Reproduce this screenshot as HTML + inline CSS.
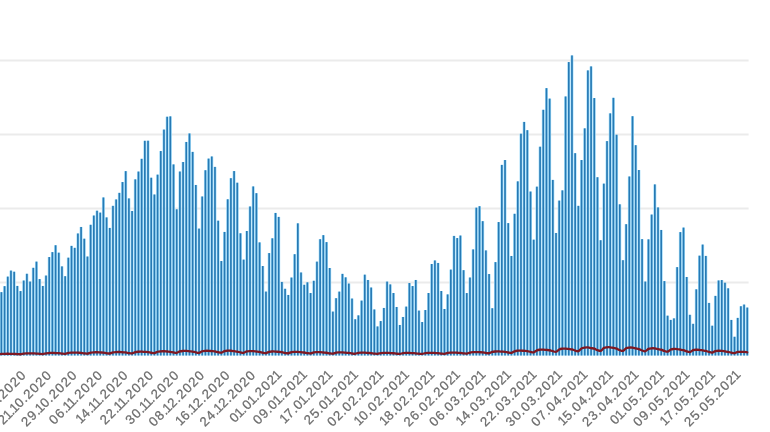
<!DOCTYPE html>
<html><head><meta charset="utf-8"><title>chart</title>
<style>
html,body{margin:0;padding:0;background:#fff;}
body{width:770px;height:432px;overflow:hidden;position:relative;font-family:"Liberation Sans",sans-serif;}
svg{position:absolute;left:0;top:0;display:block;}
.g{stroke:#ebebeb;stroke-width:2.2;fill:none}
.lt{fill:#a4dffc}.dk{fill:#2679b4}
.d{fill:none;stroke:#7e1822;stroke-width:2.3;stroke-linejoin:round;stroke-linecap:round}
.l text{font-family:"Liberation Sans",sans-serif;font-size:13.2px;fill:#6c6c6c;stroke:#6c6c6c;stroke-width:0.25px}
</style></head><body>
<svg width="770" height="432" viewBox="0 0 770 432">
<line class="g" x1="0" y1="60.5" x2="748.6" y2="60.5"/>
<line class="g" x1="0" y1="134.5" x2="748.6" y2="134.5"/>
<line class="g" x1="0" y1="208.5" x2="748.6" y2="208.5"/>
<line class="g" x1="0" y1="282.5" x2="748.6" y2="282.5"/>
<defs><clipPath id="c"><rect x="0" y="0" width="770" height="355.6"/></clipPath></defs>
<g class="b" clip-path="url(#c)">
<rect class="lt" x="-0.08" y="292.15" width="2.95" height="66.25"/>
<rect class="lt" x="3.11" y="286.16" width="2.95" height="72.24"/>
<rect class="lt" x="6.30" y="276.62" width="2.95" height="81.78"/>
<rect class="lt" x="9.49" y="270.60" width="2.95" height="87.80"/>
<rect class="lt" x="12.68" y="271.73" width="2.95" height="86.67"/>
<rect class="lt" x="15.86" y="285.93" width="2.95" height="72.47"/>
<rect class="lt" x="19.05" y="291.08" width="2.95" height="67.32"/>
<rect class="lt" x="22.24" y="280.53" width="2.95" height="77.87"/>
<rect class="lt" x="25.42" y="273.77" width="2.95" height="84.63"/>
<rect class="lt" x="28.61" y="281.58" width="2.95" height="76.82"/>
<rect class="lt" x="31.80" y="267.82" width="2.95" height="90.58"/>
<rect class="lt" x="34.99" y="261.63" width="2.95" height="96.77"/>
<rect class="lt" x="38.17" y="279.08" width="2.95" height="79.32"/>
<rect class="lt" x="41.36" y="285.96" width="2.95" height="72.44"/>
<rect class="lt" x="44.55" y="275.56" width="2.95" height="82.84"/>
<rect class="lt" x="47.74" y="257.06" width="2.95" height="101.34"/>
<rect class="lt" x="50.92" y="252.12" width="2.95" height="106.28"/>
<rect class="lt" x="54.11" y="245.25" width="2.95" height="113.15"/>
<rect class="lt" x="57.30" y="252.69" width="2.95" height="105.71"/>
<rect class="lt" x="60.49" y="266.40" width="2.95" height="92.00"/>
<rect class="lt" x="63.68" y="276.20" width="2.95" height="82.20"/>
<rect class="lt" x="66.86" y="257.68" width="2.95" height="100.72"/>
<rect class="lt" x="70.05" y="245.88" width="2.95" height="112.52"/>
<rect class="lt" x="73.24" y="247.84" width="2.95" height="110.56"/>
<rect class="lt" x="76.43" y="233.48" width="2.95" height="124.92"/>
<rect class="lt" x="79.61" y="226.97" width="2.95" height="131.43"/>
<rect class="lt" x="82.80" y="238.71" width="2.95" height="119.69"/>
<rect class="lt" x="85.99" y="256.54" width="2.95" height="101.86"/>
<rect class="lt" x="89.18" y="224.79" width="2.95" height="133.61"/>
<rect class="lt" x="92.36" y="215.54" width="2.95" height="142.86"/>
<rect class="lt" x="95.55" y="210.72" width="2.95" height="147.68"/>
<rect class="lt" x="98.74" y="212.63" width="2.95" height="145.77"/>
<rect class="lt" x="101.93" y="197.46" width="2.95" height="160.94"/>
<rect class="lt" x="105.11" y="217.42" width="2.95" height="140.98"/>
<rect class="lt" x="108.30" y="227.93" width="2.95" height="130.47"/>
<rect class="lt" x="111.49" y="205.85" width="2.95" height="152.55"/>
<rect class="lt" x="114.68" y="199.46" width="2.95" height="158.94"/>
<rect class="lt" x="117.86" y="192.86" width="2.95" height="165.54"/>
<rect class="lt" x="121.05" y="182.05" width="2.95" height="176.35"/>
<rect class="lt" x="124.24" y="171.14" width="2.95" height="187.26"/>
<rect class="lt" x="127.43" y="198.42" width="2.95" height="159.98"/>
<rect class="lt" x="130.61" y="210.99" width="2.95" height="147.41"/>
<rect class="lt" x="133.80" y="179.37" width="2.95" height="179.03"/>
<rect class="lt" x="136.99" y="171.56" width="2.95" height="186.84"/>
<rect class="lt" x="140.18" y="158.82" width="2.95" height="199.58"/>
<rect class="lt" x="143.36" y="140.79" width="2.95" height="217.61"/>
<rect class="lt" x="146.55" y="140.72" width="2.95" height="217.68"/>
<rect class="lt" x="149.74" y="177.73" width="2.95" height="180.67"/>
<rect class="lt" x="152.93" y="194.51" width="2.95" height="163.89"/>
<rect class="lt" x="156.11" y="174.65" width="2.95" height="183.75"/>
<rect class="lt" x="159.30" y="151.05" width="2.95" height="207.35"/>
<rect class="lt" x="162.49" y="129.60" width="2.95" height="228.80"/>
<rect class="lt" x="165.68" y="116.74" width="2.95" height="241.66"/>
<rect class="lt" x="168.86" y="116.37" width="2.95" height="242.03"/>
<rect class="lt" x="172.05" y="164.43" width="2.95" height="193.97"/>
<rect class="lt" x="175.24" y="209.30" width="2.95" height="149.10"/>
<rect class="lt" x="178.43" y="171.53" width="2.95" height="186.87"/>
<rect class="lt" x="181.61" y="162.01" width="2.95" height="196.39"/>
<rect class="lt" x="184.80" y="141.96" width="2.95" height="216.44"/>
<rect class="lt" x="187.99" y="133.46" width="2.95" height="224.94"/>
<rect class="lt" x="191.18" y="151.89" width="2.95" height="206.51"/>
<rect class="lt" x="194.36" y="184.97" width="2.95" height="173.43"/>
<rect class="lt" x="197.55" y="228.61" width="2.95" height="129.79"/>
<rect class="lt" x="200.74" y="196.50" width="2.95" height="161.90"/>
<rect class="lt" x="203.93" y="170.24" width="2.95" height="188.16"/>
<rect class="lt" x="207.11" y="158.61" width="2.95" height="199.79"/>
<rect class="lt" x="210.30" y="156.49" width="2.95" height="201.91"/>
<rect class="lt" x="213.49" y="166.90" width="2.95" height="191.50"/>
<rect class="lt" x="216.68" y="220.70" width="2.95" height="137.70"/>
<rect class="lt" x="219.86" y="261.03" width="2.95" height="97.37"/>
<rect class="lt" x="223.05" y="231.94" width="2.95" height="126.46"/>
<rect class="lt" x="226.24" y="199.29" width="2.95" height="159.11"/>
<rect class="lt" x="229.43" y="178.20" width="2.95" height="180.20"/>
<rect class="lt" x="232.61" y="171.06" width="2.95" height="187.34"/>
<rect class="lt" x="235.80" y="182.72" width="2.95" height="175.68"/>
<rect class="lt" x="238.99" y="233.29" width="2.95" height="125.11"/>
<rect class="lt" x="242.18" y="259.63" width="2.95" height="98.77"/>
<rect class="lt" x="245.36" y="231.00" width="2.95" height="127.40"/>
<rect class="lt" x="248.55" y="206.49" width="2.95" height="151.91"/>
<rect class="lt" x="251.74" y="186.45" width="2.95" height="171.95"/>
<rect class="lt" x="254.92" y="193.18" width="2.95" height="165.22"/>
<rect class="lt" x="258.11" y="242.41" width="2.95" height="115.99"/>
<rect class="lt" x="261.30" y="266.03" width="2.95" height="92.37"/>
<rect class="lt" x="264.49" y="291.60" width="2.95" height="66.80"/>
<rect class="lt" x="267.67" y="253.08" width="2.95" height="105.32"/>
<rect class="lt" x="270.86" y="238.31" width="2.95" height="120.09"/>
<rect class="lt" x="274.05" y="212.95" width="2.95" height="145.45"/>
<rect class="lt" x="277.24" y="216.91" width="2.95" height="141.49"/>
<rect class="lt" x="280.42" y="281.94" width="2.95" height="76.46"/>
<rect class="lt" x="283.61" y="288.78" width="2.95" height="69.62"/>
<rect class="lt" x="286.80" y="294.96" width="2.95" height="63.44"/>
<rect class="lt" x="289.99" y="277.56" width="2.95" height="80.84"/>
<rect class="lt" x="293.17" y="254.22" width="2.95" height="104.18"/>
<rect class="lt" x="296.36" y="223.34" width="2.95" height="135.06"/>
<rect class="lt" x="299.55" y="272.50" width="2.95" height="85.90"/>
<rect class="lt" x="302.74" y="284.78" width="2.95" height="73.62"/>
<rect class="lt" x="305.92" y="282.34" width="2.95" height="76.06"/>
<rect class="lt" x="309.11" y="293.04" width="2.95" height="65.36"/>
<rect class="lt" x="312.30" y="280.78" width="2.95" height="77.62"/>
<rect class="lt" x="315.49" y="261.65" width="2.95" height="96.75"/>
<rect class="lt" x="318.67" y="239.21" width="2.95" height="119.19"/>
<rect class="lt" x="321.86" y="235.15" width="2.95" height="123.25"/>
<rect class="lt" x="325.05" y="242.11" width="2.95" height="116.29"/>
<rect class="lt" x="328.24" y="268.00" width="2.95" height="90.40"/>
<rect class="lt" x="331.42" y="311.60" width="2.95" height="46.80"/>
<rect class="lt" x="334.61" y="298.20" width="2.95" height="60.20"/>
<rect class="lt" x="337.80" y="291.63" width="2.95" height="66.77"/>
<rect class="lt" x="340.99" y="273.87" width="2.95" height="84.53"/>
<rect class="lt" x="344.17" y="277.35" width="2.95" height="81.05"/>
<rect class="lt" x="347.36" y="283.57" width="2.95" height="74.83"/>
<rect class="lt" x="350.55" y="298.56" width="2.95" height="59.84"/>
<rect class="lt" x="353.74" y="319.26" width="2.95" height="39.14"/>
<rect class="lt" x="356.92" y="315.37" width="2.95" height="43.03"/>
<rect class="lt" x="360.11" y="300.62" width="2.95" height="57.78"/>
<rect class="lt" x="363.30" y="274.67" width="2.95" height="83.73"/>
<rect class="lt" x="366.49" y="279.98" width="2.95" height="78.42"/>
<rect class="lt" x="369.67" y="287.53" width="2.95" height="70.87"/>
<rect class="lt" x="372.86" y="309.48" width="2.95" height="48.92"/>
<rect class="lt" x="376.05" y="326.46" width="2.95" height="31.94"/>
<rect class="lt" x="379.24" y="321.07" width="2.95" height="37.33"/>
<rect class="lt" x="382.42" y="307.96" width="2.95" height="50.44"/>
<rect class="lt" x="385.61" y="281.61" width="2.95" height="76.79"/>
<rect class="lt" x="388.80" y="284.42" width="2.95" height="73.98"/>
<rect class="lt" x="391.99" y="293.01" width="2.95" height="65.39"/>
<rect class="lt" x="395.17" y="306.99" width="2.95" height="51.41"/>
<rect class="lt" x="398.36" y="324.98" width="2.95" height="33.42"/>
<rect class="lt" x="401.55" y="316.98" width="2.95" height="41.42"/>
<rect class="lt" x="404.74" y="306.62" width="2.95" height="51.78"/>
<rect class="lt" x="407.92" y="283.02" width="2.95" height="75.38"/>
<rect class="lt" x="411.11" y="286.05" width="2.95" height="72.35"/>
<rect class="lt" x="414.30" y="279.98" width="2.95" height="78.42"/>
<rect class="lt" x="417.49" y="310.62" width="2.95" height="47.78"/>
<rect class="lt" x="420.67" y="322.02" width="2.95" height="36.38"/>
<rect class="lt" x="423.86" y="310.03" width="2.95" height="48.37"/>
<rect class="lt" x="427.05" y="293.01" width="2.95" height="65.39"/>
<rect class="lt" x="430.24" y="264.00" width="2.95" height="94.40"/>
<rect class="lt" x="433.42" y="260.45" width="2.95" height="97.95"/>
<rect class="lt" x="436.61" y="262.96" width="2.95" height="95.44"/>
<rect class="lt" x="439.80" y="291.01" width="2.95" height="67.39"/>
<rect class="lt" x="442.99" y="308.99" width="2.95" height="49.41"/>
<rect class="lt" x="446.17" y="294.41" width="2.95" height="63.99"/>
<rect class="lt" x="449.36" y="269.62" width="2.95" height="88.78"/>
<rect class="lt" x="452.55" y="235.92" width="2.95" height="122.48"/>
<rect class="lt" x="455.74" y="238.06" width="2.95" height="120.34"/>
<rect class="lt" x="458.92" y="235.55" width="2.95" height="122.85"/>
<rect class="lt" x="462.11" y="270.17" width="2.95" height="88.23"/>
<rect class="lt" x="465.30" y="293.08" width="2.95" height="65.32"/>
<rect class="lt" x="468.49" y="277.53" width="2.95" height="80.87"/>
<rect class="lt" x="471.67" y="249.42" width="2.95" height="108.98"/>
<rect class="lt" x="474.86" y="207.66" width="2.95" height="150.74"/>
<rect class="lt" x="478.05" y="206.21" width="2.95" height="152.19"/>
<rect class="lt" x="481.24" y="221.17" width="2.95" height="137.23"/>
<rect class="lt" x="484.42" y="250.43" width="2.95" height="107.97"/>
<rect class="lt" x="487.61" y="274.03" width="2.95" height="84.37"/>
<rect class="lt" x="490.80" y="308.24" width="2.95" height="50.16"/>
<rect class="lt" x="493.99" y="262.12" width="2.95" height="96.28"/>
<rect class="lt" x="497.17" y="222.06" width="2.95" height="136.34"/>
<rect class="lt" x="500.36" y="164.90" width="2.95" height="193.50"/>
<rect class="lt" x="503.55" y="160.02" width="2.95" height="198.38"/>
<rect class="lt" x="506.74" y="223.12" width="2.95" height="135.28"/>
<rect class="lt" x="509.92" y="255.98" width="2.95" height="102.42"/>
<rect class="lt" x="513.11" y="213.80" width="2.95" height="144.60"/>
<rect class="lt" x="516.30" y="181.37" width="2.95" height="177.03"/>
<rect class="lt" x="519.49" y="133.72" width="2.95" height="224.68"/>
<rect class="lt" x="522.67" y="121.92" width="2.95" height="236.48"/>
<rect class="lt" x="525.86" y="130.18" width="2.95" height="228.22"/>
<rect class="lt" x="529.05" y="191.55" width="2.95" height="166.85"/>
<rect class="lt" x="532.24" y="239.68" width="2.95" height="118.72"/>
<rect class="lt" x="535.42" y="186.66" width="2.95" height="171.74"/>
<rect class="lt" x="538.61" y="146.72" width="2.95" height="211.68"/>
<rect class="lt" x="541.80" y="109.80" width="2.95" height="248.60"/>
<rect class="lt" x="544.99" y="88.15" width="2.95" height="270.25"/>
<rect class="lt" x="548.17" y="98.62" width="2.95" height="259.78"/>
<rect class="lt" x="551.36" y="179.91" width="2.95" height="178.49"/>
<rect class="lt" x="554.55" y="232.98" width="2.95" height="125.42"/>
<rect class="lt" x="557.74" y="200.61" width="2.95" height="157.79"/>
<rect class="lt" x="560.92" y="190.36" width="2.95" height="168.04"/>
<rect class="lt" x="564.11" y="96.48" width="2.95" height="261.92"/>
<rect class="lt" x="567.30" y="62.08" width="2.95" height="296.32"/>
<rect class="lt" x="570.49" y="55.45" width="2.95" height="302.95"/>
<rect class="lt" x="573.67" y="153.18" width="2.95" height="205.22"/>
<rect class="lt" x="576.86" y="205.85" width="2.95" height="152.55"/>
<rect class="lt" x="580.05" y="160.02" width="2.95" height="198.38"/>
<rect class="lt" x="583.24" y="128.36" width="2.95" height="230.04"/>
<rect class="lt" x="586.42" y="70.42" width="2.95" height="287.98"/>
<rect class="lt" x="589.61" y="66.42" width="2.95" height="291.98"/>
<rect class="lt" x="592.80" y="98.05" width="2.95" height="260.35"/>
<rect class="lt" x="595.99" y="177.24" width="2.95" height="181.16"/>
<rect class="lt" x="599.17" y="240.23" width="2.95" height="118.17"/>
<rect class="lt" x="602.36" y="183.64" width="2.95" height="174.76"/>
<rect class="lt" x="605.55" y="141.12" width="2.95" height="217.28"/>
<rect class="lt" x="608.74" y="113.38" width="2.95" height="245.02"/>
<rect class="lt" x="611.92" y="97.81" width="2.95" height="260.59"/>
<rect class="lt" x="615.11" y="134.74" width="2.95" height="223.66"/>
<rect class="lt" x="618.30" y="204.33" width="2.95" height="154.07"/>
<rect class="lt" x="621.49" y="260.21" width="2.95" height="98.19"/>
<rect class="lt" x="624.67" y="224.19" width="2.95" height="134.21"/>
<rect class="lt" x="627.86" y="176.50" width="2.95" height="181.90"/>
<rect class="lt" x="631.05" y="116.22" width="2.95" height="242.18"/>
<rect class="lt" x="634.24" y="145.20" width="2.95" height="213.20"/>
<rect class="lt" x="637.42" y="170.02" width="2.95" height="188.38"/>
<rect class="lt" x="640.61" y="239.14" width="2.95" height="119.26"/>
<rect class="lt" x="643.80" y="281.58" width="2.95" height="76.82"/>
<rect class="lt" x="646.99" y="239.36" width="2.95" height="119.04"/>
<rect class="lt" x="650.17" y="214.57" width="2.95" height="143.83"/>
<rect class="lt" x="653.36" y="184.42" width="2.95" height="173.98"/>
<rect class="lt" x="656.55" y="207.43" width="2.95" height="150.97"/>
<rect class="lt" x="659.74" y="229.97" width="2.95" height="128.43"/>
<rect class="lt" x="662.92" y="281.11" width="2.95" height="77.29"/>
<rect class="lt" x="666.11" y="315.68" width="2.95" height="42.72"/>
<rect class="lt" x="669.30" y="319.91" width="2.95" height="38.49"/>
<rect class="lt" x="672.49" y="318.38" width="2.95" height="40.02"/>
<rect class="lt" x="675.67" y="267.14" width="2.95" height="91.26"/>
<rect class="lt" x="678.86" y="232.12" width="2.95" height="126.28"/>
<rect class="lt" x="682.05" y="227.59" width="2.95" height="130.81"/>
<rect class="lt" x="685.24" y="276.99" width="2.95" height="81.41"/>
<rect class="lt" x="688.42" y="314.81" width="2.95" height="43.59"/>
<rect class="lt" x="691.61" y="323.82" width="2.95" height="34.58"/>
<rect class="lt" x="694.80" y="289.34" width="2.95" height="69.06"/>
<rect class="lt" x="697.99" y="255.67" width="2.95" height="102.73"/>
<rect class="lt" x="701.17" y="244.58" width="2.95" height="113.82"/>
<rect class="lt" x="704.36" y="255.92" width="2.95" height="102.48"/>
<rect class="lt" x="707.55" y="302.92" width="2.95" height="55.48"/>
<rect class="lt" x="710.74" y="325.72" width="2.95" height="32.68"/>
<rect class="lt" x="713.92" y="295.89" width="2.95" height="62.51"/>
<rect class="lt" x="717.11" y="280.46" width="2.95" height="77.94"/>
<rect class="lt" x="720.30" y="280.06" width="2.95" height="78.34"/>
<rect class="lt" x="723.49" y="282.74" width="2.95" height="75.66"/>
<rect class="lt" x="726.67" y="288.33" width="2.95" height="70.07"/>
<rect class="lt" x="729.86" y="319.94" width="2.95" height="38.46"/>
<rect class="lt" x="733.05" y="336.76" width="2.95" height="21.64"/>
<rect class="lt" x="736.24" y="317.90" width="2.95" height="40.50"/>
<rect class="lt" x="739.42" y="306.25" width="2.95" height="52.15"/>
<rect class="lt" x="742.61" y="304.57" width="2.95" height="53.83"/>
<rect class="lt" x="745.80" y="307.57" width="2.95" height="50.83"/>
<rect class="dk" x="0.57" y="292.15" width="1.65" height="66.25"/>
<rect class="dk" x="3.76" y="286.16" width="1.65" height="72.24"/>
<rect class="dk" x="6.95" y="276.62" width="1.65" height="81.78"/>
<rect class="dk" x="10.14" y="270.60" width="1.65" height="87.80"/>
<rect class="dk" x="13.33" y="271.73" width="1.65" height="86.67"/>
<rect class="dk" x="16.51" y="285.93" width="1.65" height="72.47"/>
<rect class="dk" x="19.70" y="291.08" width="1.65" height="67.32"/>
<rect class="dk" x="22.89" y="280.53" width="1.65" height="77.87"/>
<rect class="dk" x="26.07" y="273.77" width="1.65" height="84.63"/>
<rect class="dk" x="29.26" y="281.58" width="1.65" height="76.82"/>
<rect class="dk" x="32.45" y="267.82" width="1.65" height="90.58"/>
<rect class="dk" x="35.64" y="261.63" width="1.65" height="96.77"/>
<rect class="dk" x="38.82" y="279.08" width="1.65" height="79.32"/>
<rect class="dk" x="42.01" y="285.96" width="1.65" height="72.44"/>
<rect class="dk" x="45.20" y="275.56" width="1.65" height="82.84"/>
<rect class="dk" x="48.39" y="257.06" width="1.65" height="101.34"/>
<rect class="dk" x="51.57" y="252.12" width="1.65" height="106.28"/>
<rect class="dk" x="54.76" y="245.25" width="1.65" height="113.15"/>
<rect class="dk" x="57.95" y="252.69" width="1.65" height="105.71"/>
<rect class="dk" x="61.14" y="266.40" width="1.65" height="92.00"/>
<rect class="dk" x="64.33" y="276.20" width="1.65" height="82.20"/>
<rect class="dk" x="67.51" y="257.68" width="1.65" height="100.72"/>
<rect class="dk" x="70.70" y="245.88" width="1.65" height="112.52"/>
<rect class="dk" x="73.89" y="247.84" width="1.65" height="110.56"/>
<rect class="dk" x="77.08" y="233.48" width="1.65" height="124.92"/>
<rect class="dk" x="80.26" y="226.97" width="1.65" height="131.43"/>
<rect class="dk" x="83.45" y="238.71" width="1.65" height="119.69"/>
<rect class="dk" x="86.64" y="256.54" width="1.65" height="101.86"/>
<rect class="dk" x="89.83" y="224.79" width="1.65" height="133.61"/>
<rect class="dk" x="93.01" y="215.54" width="1.65" height="142.86"/>
<rect class="dk" x="96.20" y="210.72" width="1.65" height="147.68"/>
<rect class="dk" x="99.39" y="212.63" width="1.65" height="145.77"/>
<rect class="dk" x="102.58" y="197.46" width="1.65" height="160.94"/>
<rect class="dk" x="105.76" y="217.42" width="1.65" height="140.98"/>
<rect class="dk" x="108.95" y="227.93" width="1.65" height="130.47"/>
<rect class="dk" x="112.14" y="205.85" width="1.65" height="152.55"/>
<rect class="dk" x="115.33" y="199.46" width="1.65" height="158.94"/>
<rect class="dk" x="118.51" y="192.86" width="1.65" height="165.54"/>
<rect class="dk" x="121.70" y="182.05" width="1.65" height="176.35"/>
<rect class="dk" x="124.89" y="171.14" width="1.65" height="187.26"/>
<rect class="dk" x="128.08" y="198.42" width="1.65" height="159.98"/>
<rect class="dk" x="131.26" y="210.99" width="1.65" height="147.41"/>
<rect class="dk" x="134.45" y="179.37" width="1.65" height="179.03"/>
<rect class="dk" x="137.64" y="171.56" width="1.65" height="186.84"/>
<rect class="dk" x="140.83" y="158.82" width="1.65" height="199.58"/>
<rect class="dk" x="144.01" y="140.79" width="1.65" height="217.61"/>
<rect class="dk" x="147.20" y="140.72" width="1.65" height="217.68"/>
<rect class="dk" x="150.39" y="177.73" width="1.65" height="180.67"/>
<rect class="dk" x="153.58" y="194.51" width="1.65" height="163.89"/>
<rect class="dk" x="156.76" y="174.65" width="1.65" height="183.75"/>
<rect class="dk" x="159.95" y="151.05" width="1.65" height="207.35"/>
<rect class="dk" x="163.14" y="129.60" width="1.65" height="228.80"/>
<rect class="dk" x="166.33" y="116.74" width="1.65" height="241.66"/>
<rect class="dk" x="169.51" y="116.37" width="1.65" height="242.03"/>
<rect class="dk" x="172.70" y="164.43" width="1.65" height="193.97"/>
<rect class="dk" x="175.89" y="209.30" width="1.65" height="149.10"/>
<rect class="dk" x="179.08" y="171.53" width="1.65" height="186.87"/>
<rect class="dk" x="182.26" y="162.01" width="1.65" height="196.39"/>
<rect class="dk" x="185.45" y="141.96" width="1.65" height="216.44"/>
<rect class="dk" x="188.64" y="133.46" width="1.65" height="224.94"/>
<rect class="dk" x="191.83" y="151.89" width="1.65" height="206.51"/>
<rect class="dk" x="195.01" y="184.97" width="1.65" height="173.43"/>
<rect class="dk" x="198.20" y="228.61" width="1.65" height="129.79"/>
<rect class="dk" x="201.39" y="196.50" width="1.65" height="161.90"/>
<rect class="dk" x="204.58" y="170.24" width="1.65" height="188.16"/>
<rect class="dk" x="207.76" y="158.61" width="1.65" height="199.79"/>
<rect class="dk" x="210.95" y="156.49" width="1.65" height="201.91"/>
<rect class="dk" x="214.14" y="166.90" width="1.65" height="191.50"/>
<rect class="dk" x="217.33" y="220.70" width="1.65" height="137.70"/>
<rect class="dk" x="220.51" y="261.03" width="1.65" height="97.37"/>
<rect class="dk" x="223.70" y="231.94" width="1.65" height="126.46"/>
<rect class="dk" x="226.89" y="199.29" width="1.65" height="159.11"/>
<rect class="dk" x="230.08" y="178.20" width="1.65" height="180.20"/>
<rect class="dk" x="233.26" y="171.06" width="1.65" height="187.34"/>
<rect class="dk" x="236.45" y="182.72" width="1.65" height="175.68"/>
<rect class="dk" x="239.64" y="233.29" width="1.65" height="125.11"/>
<rect class="dk" x="242.83" y="259.63" width="1.65" height="98.77"/>
<rect class="dk" x="246.01" y="231.00" width="1.65" height="127.40"/>
<rect class="dk" x="249.20" y="206.49" width="1.65" height="151.91"/>
<rect class="dk" x="252.39" y="186.45" width="1.65" height="171.95"/>
<rect class="dk" x="255.57" y="193.18" width="1.65" height="165.22"/>
<rect class="dk" x="258.76" y="242.41" width="1.65" height="115.99"/>
<rect class="dk" x="261.95" y="266.03" width="1.65" height="92.37"/>
<rect class="dk" x="265.14" y="291.60" width="1.65" height="66.80"/>
<rect class="dk" x="268.32" y="253.08" width="1.65" height="105.32"/>
<rect class="dk" x="271.51" y="238.31" width="1.65" height="120.09"/>
<rect class="dk" x="274.70" y="212.95" width="1.65" height="145.45"/>
<rect class="dk" x="277.89" y="216.91" width="1.65" height="141.49"/>
<rect class="dk" x="281.07" y="281.94" width="1.65" height="76.46"/>
<rect class="dk" x="284.26" y="288.78" width="1.65" height="69.62"/>
<rect class="dk" x="287.45" y="294.96" width="1.65" height="63.44"/>
<rect class="dk" x="290.64" y="277.56" width="1.65" height="80.84"/>
<rect class="dk" x="293.82" y="254.22" width="1.65" height="104.18"/>
<rect class="dk" x="297.01" y="223.34" width="1.65" height="135.06"/>
<rect class="dk" x="300.20" y="272.50" width="1.65" height="85.90"/>
<rect class="dk" x="303.39" y="284.78" width="1.65" height="73.62"/>
<rect class="dk" x="306.57" y="282.34" width="1.65" height="76.06"/>
<rect class="dk" x="309.76" y="293.04" width="1.65" height="65.36"/>
<rect class="dk" x="312.95" y="280.78" width="1.65" height="77.62"/>
<rect class="dk" x="316.14" y="261.65" width="1.65" height="96.75"/>
<rect class="dk" x="319.32" y="239.21" width="1.65" height="119.19"/>
<rect class="dk" x="322.51" y="235.15" width="1.65" height="123.25"/>
<rect class="dk" x="325.70" y="242.11" width="1.65" height="116.29"/>
<rect class="dk" x="328.89" y="268.00" width="1.65" height="90.40"/>
<rect class="dk" x="332.07" y="311.60" width="1.65" height="46.80"/>
<rect class="dk" x="335.26" y="298.20" width="1.65" height="60.20"/>
<rect class="dk" x="338.45" y="291.63" width="1.65" height="66.77"/>
<rect class="dk" x="341.64" y="273.87" width="1.65" height="84.53"/>
<rect class="dk" x="344.82" y="277.35" width="1.65" height="81.05"/>
<rect class="dk" x="348.01" y="283.57" width="1.65" height="74.83"/>
<rect class="dk" x="351.20" y="298.56" width="1.65" height="59.84"/>
<rect class="dk" x="354.39" y="319.26" width="1.65" height="39.14"/>
<rect class="dk" x="357.57" y="315.37" width="1.65" height="43.03"/>
<rect class="dk" x="360.76" y="300.62" width="1.65" height="57.78"/>
<rect class="dk" x="363.95" y="274.67" width="1.65" height="83.73"/>
<rect class="dk" x="367.14" y="279.98" width="1.65" height="78.42"/>
<rect class="dk" x="370.32" y="287.53" width="1.65" height="70.87"/>
<rect class="dk" x="373.51" y="309.48" width="1.65" height="48.92"/>
<rect class="dk" x="376.70" y="326.46" width="1.65" height="31.94"/>
<rect class="dk" x="379.89" y="321.07" width="1.65" height="37.33"/>
<rect class="dk" x="383.07" y="307.96" width="1.65" height="50.44"/>
<rect class="dk" x="386.26" y="281.61" width="1.65" height="76.79"/>
<rect class="dk" x="389.45" y="284.42" width="1.65" height="73.98"/>
<rect class="dk" x="392.64" y="293.01" width="1.65" height="65.39"/>
<rect class="dk" x="395.82" y="306.99" width="1.65" height="51.41"/>
<rect class="dk" x="399.01" y="324.98" width="1.65" height="33.42"/>
<rect class="dk" x="402.20" y="316.98" width="1.65" height="41.42"/>
<rect class="dk" x="405.39" y="306.62" width="1.65" height="51.78"/>
<rect class="dk" x="408.57" y="283.02" width="1.65" height="75.38"/>
<rect class="dk" x="411.76" y="286.05" width="1.65" height="72.35"/>
<rect class="dk" x="414.95" y="279.98" width="1.65" height="78.42"/>
<rect class="dk" x="418.14" y="310.62" width="1.65" height="47.78"/>
<rect class="dk" x="421.32" y="322.02" width="1.65" height="36.38"/>
<rect class="dk" x="424.51" y="310.03" width="1.65" height="48.37"/>
<rect class="dk" x="427.70" y="293.01" width="1.65" height="65.39"/>
<rect class="dk" x="430.89" y="264.00" width="1.65" height="94.40"/>
<rect class="dk" x="434.07" y="260.45" width="1.65" height="97.95"/>
<rect class="dk" x="437.26" y="262.96" width="1.65" height="95.44"/>
<rect class="dk" x="440.45" y="291.01" width="1.65" height="67.39"/>
<rect class="dk" x="443.64" y="308.99" width="1.65" height="49.41"/>
<rect class="dk" x="446.82" y="294.41" width="1.65" height="63.99"/>
<rect class="dk" x="450.01" y="269.62" width="1.65" height="88.78"/>
<rect class="dk" x="453.20" y="235.92" width="1.65" height="122.48"/>
<rect class="dk" x="456.39" y="238.06" width="1.65" height="120.34"/>
<rect class="dk" x="459.57" y="235.55" width="1.65" height="122.85"/>
<rect class="dk" x="462.76" y="270.17" width="1.65" height="88.23"/>
<rect class="dk" x="465.95" y="293.08" width="1.65" height="65.32"/>
<rect class="dk" x="469.14" y="277.53" width="1.65" height="80.87"/>
<rect class="dk" x="472.32" y="249.42" width="1.65" height="108.98"/>
<rect class="dk" x="475.51" y="207.66" width="1.65" height="150.74"/>
<rect class="dk" x="478.70" y="206.21" width="1.65" height="152.19"/>
<rect class="dk" x="481.89" y="221.17" width="1.65" height="137.23"/>
<rect class="dk" x="485.07" y="250.43" width="1.65" height="107.97"/>
<rect class="dk" x="488.26" y="274.03" width="1.65" height="84.37"/>
<rect class="dk" x="491.45" y="308.24" width="1.65" height="50.16"/>
<rect class="dk" x="494.64" y="262.12" width="1.65" height="96.28"/>
<rect class="dk" x="497.82" y="222.06" width="1.65" height="136.34"/>
<rect class="dk" x="501.01" y="164.90" width="1.65" height="193.50"/>
<rect class="dk" x="504.20" y="160.02" width="1.65" height="198.38"/>
<rect class="dk" x="507.39" y="223.12" width="1.65" height="135.28"/>
<rect class="dk" x="510.57" y="255.98" width="1.65" height="102.42"/>
<rect class="dk" x="513.76" y="213.80" width="1.65" height="144.60"/>
<rect class="dk" x="516.95" y="181.37" width="1.65" height="177.03"/>
<rect class="dk" x="520.14" y="133.72" width="1.65" height="224.68"/>
<rect class="dk" x="523.32" y="121.92" width="1.65" height="236.48"/>
<rect class="dk" x="526.51" y="130.18" width="1.65" height="228.22"/>
<rect class="dk" x="529.70" y="191.55" width="1.65" height="166.85"/>
<rect class="dk" x="532.89" y="239.68" width="1.65" height="118.72"/>
<rect class="dk" x="536.07" y="186.66" width="1.65" height="171.74"/>
<rect class="dk" x="539.26" y="146.72" width="1.65" height="211.68"/>
<rect class="dk" x="542.45" y="109.80" width="1.65" height="248.60"/>
<rect class="dk" x="545.64" y="88.15" width="1.65" height="270.25"/>
<rect class="dk" x="548.82" y="98.62" width="1.65" height="259.78"/>
<rect class="dk" x="552.01" y="179.91" width="1.65" height="178.49"/>
<rect class="dk" x="555.20" y="232.98" width="1.65" height="125.42"/>
<rect class="dk" x="558.39" y="200.61" width="1.65" height="157.79"/>
<rect class="dk" x="561.57" y="190.36" width="1.65" height="168.04"/>
<rect class="dk" x="564.76" y="96.48" width="1.65" height="261.92"/>
<rect class="dk" x="567.95" y="62.08" width="1.65" height="296.32"/>
<rect class="dk" x="571.14" y="55.45" width="1.65" height="302.95"/>
<rect class="dk" x="574.32" y="153.18" width="1.65" height="205.22"/>
<rect class="dk" x="577.51" y="205.85" width="1.65" height="152.55"/>
<rect class="dk" x="580.70" y="160.02" width="1.65" height="198.38"/>
<rect class="dk" x="583.89" y="128.36" width="1.65" height="230.04"/>
<rect class="dk" x="587.07" y="70.42" width="1.65" height="287.98"/>
<rect class="dk" x="590.26" y="66.42" width="1.65" height="291.98"/>
<rect class="dk" x="593.45" y="98.05" width="1.65" height="260.35"/>
<rect class="dk" x="596.64" y="177.24" width="1.65" height="181.16"/>
<rect class="dk" x="599.82" y="240.23" width="1.65" height="118.17"/>
<rect class="dk" x="603.01" y="183.64" width="1.65" height="174.76"/>
<rect class="dk" x="606.20" y="141.12" width="1.65" height="217.28"/>
<rect class="dk" x="609.39" y="113.38" width="1.65" height="245.02"/>
<rect class="dk" x="612.57" y="97.81" width="1.65" height="260.59"/>
<rect class="dk" x="615.76" y="134.74" width="1.65" height="223.66"/>
<rect class="dk" x="618.95" y="204.33" width="1.65" height="154.07"/>
<rect class="dk" x="622.14" y="260.21" width="1.65" height="98.19"/>
<rect class="dk" x="625.32" y="224.19" width="1.65" height="134.21"/>
<rect class="dk" x="628.51" y="176.50" width="1.65" height="181.90"/>
<rect class="dk" x="631.70" y="116.22" width="1.65" height="242.18"/>
<rect class="dk" x="634.89" y="145.20" width="1.65" height="213.20"/>
<rect class="dk" x="638.07" y="170.02" width="1.65" height="188.38"/>
<rect class="dk" x="641.26" y="239.14" width="1.65" height="119.26"/>
<rect class="dk" x="644.45" y="281.58" width="1.65" height="76.82"/>
<rect class="dk" x="647.64" y="239.36" width="1.65" height="119.04"/>
<rect class="dk" x="650.82" y="214.57" width="1.65" height="143.83"/>
<rect class="dk" x="654.01" y="184.42" width="1.65" height="173.98"/>
<rect class="dk" x="657.20" y="207.43" width="1.65" height="150.97"/>
<rect class="dk" x="660.39" y="229.97" width="1.65" height="128.43"/>
<rect class="dk" x="663.57" y="281.11" width="1.65" height="77.29"/>
<rect class="dk" x="666.76" y="315.68" width="1.65" height="42.72"/>
<rect class="dk" x="669.95" y="319.91" width="1.65" height="38.49"/>
<rect class="dk" x="673.14" y="318.38" width="1.65" height="40.02"/>
<rect class="dk" x="676.32" y="267.14" width="1.65" height="91.26"/>
<rect class="dk" x="679.51" y="232.12" width="1.65" height="126.28"/>
<rect class="dk" x="682.70" y="227.59" width="1.65" height="130.81"/>
<rect class="dk" x="685.89" y="276.99" width="1.65" height="81.41"/>
<rect class="dk" x="689.07" y="314.81" width="1.65" height="43.59"/>
<rect class="dk" x="692.26" y="323.82" width="1.65" height="34.58"/>
<rect class="dk" x="695.45" y="289.34" width="1.65" height="69.06"/>
<rect class="dk" x="698.64" y="255.67" width="1.65" height="102.73"/>
<rect class="dk" x="701.82" y="244.58" width="1.65" height="113.82"/>
<rect class="dk" x="705.01" y="255.92" width="1.65" height="102.48"/>
<rect class="dk" x="708.20" y="302.92" width="1.65" height="55.48"/>
<rect class="dk" x="711.39" y="325.72" width="1.65" height="32.68"/>
<rect class="dk" x="714.57" y="295.89" width="1.65" height="62.51"/>
<rect class="dk" x="717.76" y="280.46" width="1.65" height="77.94"/>
<rect class="dk" x="720.95" y="280.06" width="1.65" height="78.34"/>
<rect class="dk" x="724.14" y="282.74" width="1.65" height="75.66"/>
<rect class="dk" x="727.32" y="288.33" width="1.65" height="70.07"/>
<rect class="dk" x="730.51" y="319.94" width="1.65" height="38.46"/>
<rect class="dk" x="733.70" y="336.76" width="1.65" height="21.64"/>
<rect class="dk" x="736.89" y="317.90" width="1.65" height="40.50"/>
<rect class="dk" x="740.07" y="306.25" width="1.65" height="52.15"/>
<rect class="dk" x="743.26" y="304.57" width="1.65" height="53.83"/>
<rect class="dk" x="746.45" y="307.57" width="1.65" height="50.83"/>
</g>
<path class="d" d="M-8.16,354.06C-7.63,354.10 -6.04,354.23 -4.97,354.29C-3.91,354.35 -2.85,354.47 -1.79,354.42C-0.73,354.36 0.34,354.08 1.40,353.98C2.46,353.88 3.53,353.84 4.59,353.80C5.65,353.76 6.71,353.74 7.78,353.74C8.84,353.74 9.90,353.78 10.96,353.80C12.03,353.83 13.09,353.82 14.15,353.87C15.21,353.93 16.27,354.05 17.34,354.11C18.40,354.17 19.46,354.31 20.52,354.23C21.59,354.15 22.65,353.76 23.71,353.62C24.77,353.49 25.84,353.45 26.90,353.40C27.96,353.36 29.02,353.34 30.09,353.35C31.15,353.35 32.21,353.41 33.27,353.44C34.34,353.47 35.40,353.47 36.46,353.54C37.52,353.61 38.59,353.77 39.65,353.85C40.71,353.93 41.77,354.11 42.84,354.01C43.90,353.91 44.96,353.43 46.02,353.27C47.09,353.10 48.15,353.06 49.21,353.00C50.27,352.95 51.34,352.94 52.40,352.95C53.46,352.96 54.52,353.03 55.59,353.07C56.65,353.12 57.71,353.13 58.77,353.21C59.84,353.30 60.90,353.49 61.96,353.59C63.02,353.69 64.09,353.90 65.15,353.79C66.21,353.68 67.28,353.10 68.34,352.91C69.40,352.71 70.46,352.67 71.53,352.61C72.59,352.55 73.65,352.53 74.71,352.55C75.78,352.57 76.84,352.66 77.90,352.71C78.96,352.77 80.03,352.77 81.09,352.88C82.15,352.99 83.21,353.23 84.28,353.35C85.34,353.46 86.40,353.72 87.46,353.60C88.53,353.47 89.59,352.82 90.65,352.61C91.71,352.39 92.78,352.35 93.84,352.29C94.90,352.24 95.96,352.23 97.03,352.26C98.09,352.29 99.15,352.39 100.21,352.46C101.28,352.53 102.34,352.55 103.40,352.67C104.46,352.79 105.53,353.05 106.59,353.18C107.65,353.31 108.71,353.59 109.78,353.46C110.84,353.33 111.90,352.62 112.96,352.38C114.03,352.15 115.09,352.11 116.15,352.05C117.21,351.98 118.28,351.98 119.34,352.01C120.40,352.04 121.46,352.16 122.53,352.23C123.59,352.31 124.65,352.33 125.71,352.47C126.78,352.60 127.84,352.88 128.90,353.02C129.96,353.16 131.03,353.46 132.09,353.31C133.15,353.16 134.21,352.38 135.28,352.12C136.34,351.85 137.40,351.80 138.46,351.73C139.53,351.65 140.59,351.64 141.65,351.67C142.71,351.70 143.78,351.82 144.84,351.90C145.90,351.98 146.96,352.00 148.03,352.14C149.09,352.28 150.15,352.60 151.21,352.75C152.28,352.91 153.34,353.25 154.40,353.08C155.46,352.91 156.53,352.04 157.59,351.74C158.65,351.45 159.71,351.39 160.78,351.31C161.84,351.23 162.90,351.22 163.96,351.25C165.03,351.29 166.09,351.43 167.15,351.52C168.21,351.61 169.28,351.63 170.34,351.79C171.40,351.96 172.46,352.31 173.53,352.48C174.59,352.66 175.65,353.03 176.71,352.85C177.78,352.67 178.84,351.72 179.90,351.40C180.96,351.09 182.03,351.04 183.09,350.97C184.15,350.89 185.21,350.89 186.28,350.94C187.34,350.99 188.40,351.16 189.46,351.27C190.53,351.38 191.59,351.42 192.65,351.60C193.71,351.78 194.78,352.16 195.84,352.35C196.90,352.55 197.96,352.95 199.03,352.76C200.09,352.58 201.15,351.58 202.21,351.25C203.28,350.93 204.34,350.88 205.40,350.80C206.46,350.72 207.53,350.73 208.59,350.78C209.65,350.83 210.71,351.00 211.78,351.12C212.84,351.23 213.90,351.27 214.96,351.46C216.03,351.65 217.09,352.04 218.15,352.24C219.21,352.45 220.28,352.86 221.34,352.67C222.40,352.48 223.46,351.43 224.53,351.10C225.59,350.78 226.65,350.77 227.71,350.72C228.78,350.66 229.84,350.69 230.90,350.77C231.96,350.85 233.03,351.05 234.09,351.18C235.15,351.32 236.21,351.38 237.28,351.59C238.34,351.79 239.40,352.19 240.46,352.39C241.53,352.60 242.59,353.00 243.65,352.84C244.71,352.68 245.78,351.74 246.84,351.45C247.90,351.16 248.96,351.15 250.03,351.10C251.09,351.05 252.15,351.09 253.21,351.16C254.28,351.23 255.34,351.41 256.40,351.54C257.46,351.66 258.52,351.72 259.59,351.91C260.65,352.09 261.71,352.46 262.77,352.65C263.84,352.84 264.90,353.20 265.96,353.05C267.02,352.91 268.09,352.06 269.15,351.80C270.21,351.54 271.27,351.54 272.34,351.49C273.40,351.45 274.46,351.48 275.52,351.55C276.59,351.61 277.65,351.78 278.71,351.89C279.77,352.00 280.84,352.05 281.90,352.22C282.96,352.38 284.02,352.71 285.09,352.88C286.15,353.06 287.21,353.38 288.27,353.25C289.34,353.12 290.40,352.35 291.46,352.12C292.52,351.88 293.59,351.87 294.65,351.83C295.71,351.79 296.77,351.82 297.84,351.88C298.90,351.94 299.96,352.09 301.02,352.19C302.09,352.29 303.15,352.34 304.21,352.50C305.27,352.65 306.34,352.94 307.40,353.10C308.46,353.26 309.52,353.55 310.59,353.43C311.65,353.32 312.71,352.63 313.77,352.41C314.84,352.20 315.90,352.20 316.96,352.16C318.02,352.13 319.09,352.16 320.15,352.21C321.21,352.27 322.27,352.40 323.34,352.50C324.40,352.59 325.46,352.63 326.52,352.76C327.59,352.89 328.65,353.16 329.71,353.30C330.77,353.43 331.84,353.70 332.90,353.59C333.96,353.49 335.02,352.86 336.09,352.66C337.15,352.47 338.21,352.46 339.27,352.42C340.34,352.39 341.40,352.41 342.46,352.46C343.52,352.51 344.59,352.63 345.65,352.71C346.71,352.79 347.77,352.83 348.84,352.95C349.90,353.08 350.96,353.32 352.02,353.45C353.09,353.58 354.15,353.82 355.21,353.72C356.27,353.62 357.34,353.05 358.40,352.87C359.46,352.70 360.52,352.69 361.59,352.66C362.65,352.63 363.71,352.65 364.77,352.69C365.84,352.74 366.90,352.85 367.96,352.92C369.02,353.00 370.09,353.04 371.15,353.15C372.21,353.26 373.27,353.48 374.34,353.60C375.40,353.71 376.46,353.93 377.52,353.84C378.59,353.74 379.65,353.21 380.71,353.04C381.77,352.88 382.84,352.86 383.90,352.83C384.96,352.79 386.02,352.80 387.09,352.84C388.15,352.87 389.21,352.97 390.27,353.04C391.34,353.10 392.40,353.13 393.46,353.24C394.52,353.34 395.59,353.55 396.65,353.65C397.71,353.76 398.77,353.97 399.84,353.88C400.90,353.79 401.96,353.28 403.02,353.12C404.09,352.96 405.15,352.94 406.21,352.91C407.27,352.88 408.34,352.89 409.40,352.92C410.46,352.96 411.52,353.05 412.59,353.11C413.65,353.18 414.71,353.21 415.77,353.30C416.84,353.40 417.90,353.60 418.96,353.71C420.02,353.81 421.09,354.02 422.15,353.93C423.21,353.83 424.27,353.32 425.34,353.15C426.40,352.97 427.46,352.94 428.52,352.89C429.59,352.84 430.65,352.83 431.71,352.85C432.77,352.86 433.84,352.94 434.90,353.00C435.96,353.05 437.02,353.06 438.09,353.15C439.15,353.25 440.21,353.45 441.27,353.55C442.34,353.66 443.40,353.88 444.46,353.77C445.52,353.66 446.59,353.08 447.65,352.89C448.71,352.69 449.77,352.65 450.84,352.60C451.90,352.55 452.96,352.54 454.02,352.56C455.09,352.58 456.15,352.67 457.21,352.73C458.27,352.79 459.34,352.81 460.40,352.91C461.46,353.02 462.52,353.26 463.59,353.37C464.65,353.48 465.71,353.72 466.77,353.58C467.84,353.44 468.90,352.77 469.96,352.53C471.02,352.29 472.09,352.23 473.15,352.15C474.21,352.07 475.27,352.05 476.34,352.06C477.40,352.07 478.46,352.17 479.52,352.22C480.59,352.28 481.65,352.29 482.71,352.41C483.77,352.53 484.84,352.80 485.90,352.94C486.96,353.07 488.02,353.39 489.09,353.22C490.15,353.05 491.21,352.22 492.27,351.94C493.34,351.65 494.40,351.58 495.46,351.49C496.52,351.40 497.59,351.37 498.65,351.39C499.71,351.42 500.77,351.54 501.84,351.62C502.90,351.69 503.96,351.71 505.02,351.85C506.09,352.00 507.15,352.34 508.21,352.51C509.27,352.67 510.34,353.06 511.40,352.85C512.46,352.65 513.52,351.65 514.59,351.29C515.65,350.94 516.71,350.85 517.77,350.73C518.84,350.61 519.90,350.57 520.96,350.58C522.02,350.60 523.09,350.74 524.15,350.83C525.21,350.91 526.27,350.92 527.34,351.09C528.40,351.27 529.46,351.68 530.52,351.88C531.59,352.08 532.65,352.55 533.71,352.30C534.77,352.05 535.84,350.81 536.90,350.38C537.96,349.95 539.02,349.85 540.09,349.72C541.15,349.58 542.21,349.54 543.27,349.57C544.34,349.60 545.40,349.79 546.46,349.90C547.52,350.01 548.59,350.03 549.65,350.25C550.71,350.47 551.77,350.98 552.84,351.23C553.90,351.47 554.96,352.03 556.02,351.74C557.09,351.45 558.15,349.98 559.21,349.48C560.27,348.97 561.34,348.86 562.40,348.71C563.46,348.55 564.52,348.51 565.59,348.55C566.65,348.59 567.71,348.82 568.77,348.95C569.84,349.09 570.90,349.12 571.96,349.38C573.02,349.65 574.09,350.24 575.15,350.54C576.21,350.84 577.27,351.50 578.34,351.16C579.40,350.82 580.46,349.10 581.52,348.51C582.59,347.92 583.65,347.79 584.71,347.62C585.77,347.44 586.84,347.39 587.90,347.46C588.96,347.54 590.02,347.87 591.09,348.08C592.15,348.28 593.21,348.36 594.27,348.69C595.34,349.03 596.40,349.73 597.46,350.09C598.52,350.44 599.59,351.17 600.65,350.84C601.71,350.51 602.77,348.70 603.84,348.11C604.90,347.52 605.96,347.45 607.02,347.31C608.09,347.17 609.15,347.17 610.21,347.29C611.27,347.40 612.34,347.75 613.40,347.98C614.46,348.21 615.52,348.32 616.59,348.67C617.65,349.03 618.71,349.75 619.77,350.12C620.84,350.49 621.90,351.22 622.96,350.91C624.02,350.61 625.09,348.85 626.15,348.30C627.21,347.74 628.27,347.70 629.34,347.59C630.40,347.48 631.46,347.51 632.52,347.64C633.59,347.77 634.65,348.13 635.71,348.36C636.77,348.60 637.84,348.72 638.90,349.07C639.96,349.42 641.02,350.11 642.09,350.47C643.15,350.83 644.21,351.51 645.27,351.24C646.34,350.98 647.40,349.38 648.46,348.89C649.52,348.40 650.59,348.38 651.65,348.31C652.71,348.23 653.77,348.29 654.84,348.42C655.90,348.55 656.96,348.86 658.02,349.08C659.09,349.29 660.15,349.39 661.21,349.70C662.27,350.01 663.34,350.62 664.40,350.94C665.46,351.27 666.52,351.87 667.59,351.63C668.65,351.39 669.71,349.95 670.77,349.51C671.84,349.06 672.90,349.05 673.96,348.97C675.02,348.90 676.09,348.95 677.15,349.06C678.21,349.17 679.27,349.45 680.34,349.65C681.40,349.84 682.46,349.93 683.52,350.22C684.59,350.50 685.65,351.07 686.71,351.37C687.77,351.67 688.84,352.22 689.90,352.02C690.96,351.82 692.02,350.55 693.09,350.17C694.15,349.79 695.21,349.80 696.27,349.75C697.34,349.70 698.40,349.76 699.46,349.87C700.52,349.99 701.59,350.24 702.65,350.43C703.71,350.61 704.77,350.70 705.84,350.96C706.90,351.21 707.96,351.70 709.02,351.97C710.09,352.23 711.15,352.69 712.21,352.53C713.27,352.38 714.34,351.33 715.40,351.04C716.46,350.74 717.52,350.76 718.59,350.74C719.65,350.71 720.71,350.78 721.77,350.89C722.84,351.00 723.90,351.22 724.96,351.38C726.02,351.54 727.09,351.63 728.15,351.84C729.21,352.06 730.27,352.44 731.34,352.66C732.40,352.87 733.46,353.23 734.52,353.11C735.59,353.00 736.65,352.20 737.71,351.98C738.77,351.76 739.84,351.79 740.90,351.78C741.96,351.78 743.02,351.84 744.09,351.93C745.15,352.02 746.74,352.27 747.27,352.33"/>
<g class="l" style="filter:grayscale(1) blur(0.3px)">
<text transform="translate(1.41,376.0) rotate(-45)" x="-72.64 -64.09 -56.03 -53.12 -46.04 -37.98 -33.59 -25.04 -16.49 -7.94">05.10.2020</text>
<text transform="translate(26.91,376.0) rotate(-45)" x="-71.17 -64.09 -56.03 -53.12 -46.04 -37.98 -33.59 -25.04 -16.49 -7.94">13.10.2020</text>
<text transform="translate(52.41,376.0) rotate(-45)" x="-69.69 -62.62 -56.03 -53.12 -46.04 -37.98 -33.59 -25.04 -16.49 -7.94">21.10.2020</text>
<text transform="translate(77.91,376.0) rotate(-45)" x="-72.64 -64.09 -56.03 -53.12 -46.04 -37.98 -33.59 -25.04 -16.49 -7.94">29.10.2020</text>
<text transform="translate(103.41,376.0) rotate(-45)" x="-69.69 -61.14 -53.08 -50.17 -44.57 -37.98 -33.59 -25.04 -16.49 -7.94">06.11.2020</text>
<text transform="translate(128.91,376.0) rotate(-45)" x="-68.22 -61.14 -53.08 -50.17 -44.57 -37.98 -33.59 -25.04 -16.49 -7.94">14.11.2020</text>
<text transform="translate(154.41,376.0) rotate(-45)" x="-69.69 -61.14 -53.08 -50.17 -44.57 -37.98 -33.59 -25.04 -16.49 -7.94">22.11.2020</text>
<text transform="translate(179.91,376.0) rotate(-45)" x="-69.69 -61.14 -53.08 -50.17 -44.57 -37.98 -33.59 -25.04 -16.49 -7.94">30.11.2020</text>
<text transform="translate(205.41,376.0) rotate(-45)" x="-72.64 -64.09 -56.03 -53.12 -46.04 -37.98 -33.59 -25.04 -16.49 -7.94">08.12.2020</text>
<text transform="translate(230.91,376.0) rotate(-45)" x="-71.17 -64.09 -56.03 -53.12 -46.04 -37.98 -33.59 -25.04 -16.49 -7.94">16.12.2020</text>
<text transform="translate(256.41,376.0) rotate(-45)" x="-72.64 -64.09 -56.03 -53.12 -46.04 -37.98 -33.59 -25.04 -16.49 -7.94">24.12.2020</text>
<text transform="translate(281.91,376.0) rotate(-45)" x="-66.74 -59.67 -53.08 -48.69 -41.62 -35.03 -30.64 -22.09 -13.54 -6.47">01.01.2021</text>
<text transform="translate(307.41,376.0) rotate(-45)" x="-69.69 -61.14 -53.08 -48.69 -41.62 -35.03 -30.64 -22.09 -13.54 -6.47">09.01.2021</text>
<text transform="translate(332.91,376.0) rotate(-45)" x="-68.22 -61.14 -53.08 -48.69 -41.62 -35.03 -30.64 -22.09 -13.54 -6.47">17.01.2021</text>
<text transform="translate(358.41,376.0) rotate(-45)" x="-69.69 -61.14 -53.08 -48.69 -41.62 -35.03 -30.64 -22.09 -13.54 -6.47">25.01.2021</text>
<text transform="translate(383.91,376.0) rotate(-45)" x="-72.64 -64.09 -56.03 -51.64 -43.09 -35.03 -30.64 -22.09 -13.54 -6.47">02.02.2021</text>
<text transform="translate(409.41,376.0) rotate(-45)" x="-71.17 -64.09 -56.03 -51.64 -43.09 -35.03 -30.64 -22.09 -13.54 -6.47">10.02.2021</text>
<text transform="translate(434.91,376.0) rotate(-45)" x="-71.17 -64.09 -56.03 -51.64 -43.09 -35.03 -30.64 -22.09 -13.54 -6.47">18.02.2021</text>
<text transform="translate(460.41,376.0) rotate(-45)" x="-72.64 -64.09 -56.03 -51.64 -43.09 -35.03 -30.64 -22.09 -13.54 -6.47">26.02.2021</text>
<text transform="translate(485.91,376.0) rotate(-45)" x="-72.64 -64.09 -56.03 -51.64 -43.09 -35.03 -30.64 -22.09 -13.54 -6.47">06.03.2021</text>
<text transform="translate(511.41,376.0) rotate(-45)" x="-71.17 -64.09 -56.03 -51.64 -43.09 -35.03 -30.64 -22.09 -13.54 -6.47">14.03.2021</text>
<text transform="translate(536.91,376.0) rotate(-45)" x="-72.64 -64.09 -56.03 -51.64 -43.09 -35.03 -30.64 -22.09 -13.54 -6.47">22.03.2021</text>
<text transform="translate(562.41,376.0) rotate(-45)" x="-72.64 -64.09 -56.03 -51.64 -43.09 -35.03 -30.64 -22.09 -13.54 -6.47">30.03.2021</text>
<text transform="translate(587.91,376.0) rotate(-45)" x="-72.64 -64.09 -56.03 -51.64 -43.09 -35.03 -30.64 -22.09 -13.54 -6.47">07.04.2021</text>
<text transform="translate(613.41,376.0) rotate(-45)" x="-71.17 -64.09 -56.03 -51.64 -43.09 -35.03 -30.64 -22.09 -13.54 -6.47">15.04.2021</text>
<text transform="translate(638.91,376.0) rotate(-45)" x="-72.64 -64.09 -56.03 -51.64 -43.09 -35.03 -30.64 -22.09 -13.54 -6.47">23.04.2021</text>
<text transform="translate(664.41,376.0) rotate(-45)" x="-69.69 -62.62 -56.03 -51.64 -43.09 -35.03 -30.64 -22.09 -13.54 -6.47">01.05.2021</text>
<text transform="translate(689.91,376.0) rotate(-45)" x="-72.64 -64.09 -56.03 -51.64 -43.09 -35.03 -30.64 -22.09 -13.54 -6.47">09.05.2021</text>
<text transform="translate(715.41,376.0) rotate(-45)" x="-71.17 -64.09 -56.03 -51.64 -43.09 -35.03 -30.64 -22.09 -13.54 -6.47">17.05.2021</text>
<text transform="translate(740.91,376.0) rotate(-45)" x="-72.64 -64.09 -56.03 -51.64 -43.09 -35.03 -30.64 -22.09 -13.54 -6.47">25.05.2021</text>
</g>
</svg>
</body></html>
